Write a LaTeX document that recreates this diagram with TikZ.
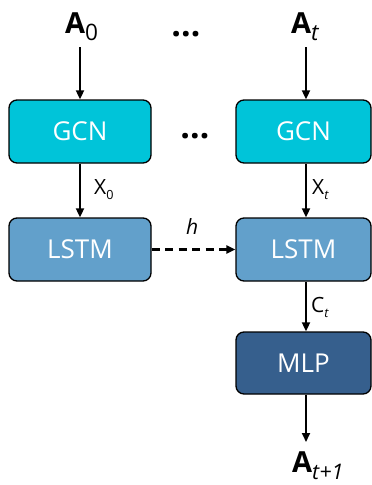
\documentclass[tikz,border=0pt]{standalone}
\usepackage{fontspec}
\setmainfont{Open Sans}
\usetikzlibrary{arrows.meta}
\definecolor{gcncol}{HTML}{00C4D9}
\definecolor{lstmcol}{HTML}{62A0CB}
\definecolor{mlpcol}{HTML}{365F8D}
\newcommand\lowsub[2][0.6]{\raisebox{-0.25em}{\scalebox{#1}{#2}}}
\tikzset{
  blk/.style={draw=black, line width=1.3pt, rounded corners=8pt, text=white,
    font=\fontsize{26}{26}\selectfont, inner sep=0pt, minimum height=63pt},
  lblk/.style={blk, minimum width=142pt},
  rblk/.style={blk, minimum width=135pt},
  arr/.style={line width=1.8pt, -{Triangle[length=9pt,width=8pt]}},
  big/.style={font=\fontsize{29}{29}\selectfont\bfseries, inner sep=0pt, anchor=base west},
  lbl/.style={font=\fontsize{21}{21}\selectfont, inner sep=0pt, anchor=base west},
}
\begin{document}
\begin{tikzpicture}[x=1pt,y=-1pt]
\useasboundingbox (0,0) rectangle (372,485);
% processing blocks
\node[lblk, fill=gcncol] (gcn0) at (80,131.5) {GCN};
\node[rblk, fill=gcncol] (gcn1) at (303.5,131.5) {GCN};
\node[lblk, fill=lstmcol] (lstm0) at (80,249.5) {LSTM};
\node[rblk, fill=lstmcol] (lstm1) at (303.5,249.5) {LSTM};
\node[rblk, fill=mlpcol, minimum height=62pt] (mlp) at (303.5,363) {MLP};
% right-hand data path
\coordinate (rcol) at (306,0);
% inputs and output
\node[big] (a0) at (65,33) {A\lowsub[0.78]{\mdseries 0}};
\node[big] (at) at (291,33) {A\lowsub[0.78]{\mdseries\itshape t}};
\node[big] (anext) at (292,472) {A\lowsub[0.74]{\mdseries\itshape t+1}};
\node[big, anchor=base, font=\fontsize{34}{34}\selectfont\bfseries] (dots1) at (186,36) {…};
\node[big, anchor=base, font=\fontsize{34}{34}\selectfont\bfseries] (dots2) at (195,138) {…};
% connectors
\draw[arr] ([yshift=-14pt]a0.base -| gcn0.north) -- (gcn0.north);
\draw[arr] ([yshift=-14pt]at.base -| rcol) -- (gcn1.north -| rcol);
\draw[arr] (gcn0.south) -- (lstm0.north);
\draw[arr] (gcn1.south -| rcol) -- (lstm1.north -| rcol);
\draw[arr, line width=2.2pt, dash pattern=on 8pt off 5.5pt] (lstm0.east) -- (lstm1.west);
\draw[arr] (lstm1.south -| rcol) -- (mlp.north -| rcol);
\coordinate (outend) at (306,442);
\draw[arr] (mlp.south -| rcol) -- (outend);
% edge labels
\node[lbl] (x0) at (94,194) {X\lowsub{0}};
\node[lbl] (xt) at (312,194) {X\lowsub{\itshape t}};
\node[lbl] (ct) at (311,312) {C\lowsub{\itshape t}};
\node[lbl, anchor=base west] (h) at (186,234) {\itshape h};
\end{tikzpicture}
\end{document}
